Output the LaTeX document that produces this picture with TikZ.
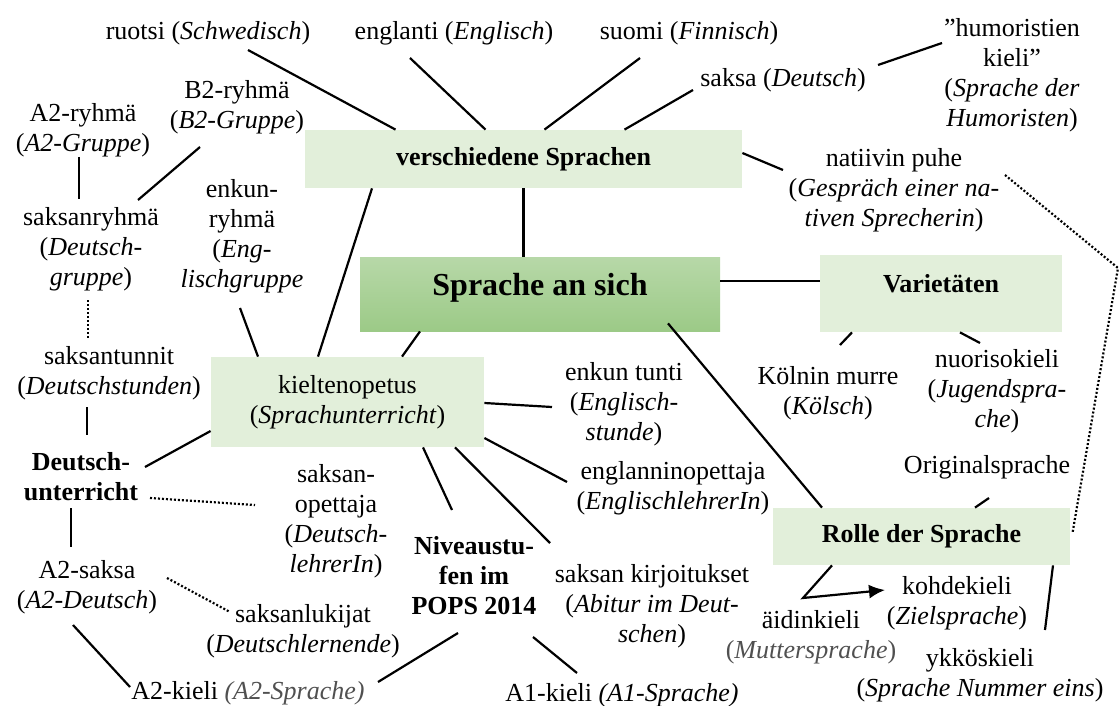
\documentclass[tikz,border=0pt]{standalone}
\usepackage{fontspec}
\setmainfont{Liberation Serif}
\usetikzlibrary{calc,arrows.meta}
\definecolor{boxgreen}{HTML}{E2EFDA}
\definecolor{topgreen}{HTML}{B7D8A8}
\definecolor{botgreen}{HTML}{9CCA87}
\definecolor{softgrey}{HTML}{505050}
\tikzset{
  word/.style={align=center,inner sep=0pt,font=\fontsize{13}{15}\selectfont},
  topic/.style={fill=boxgreen,inner sep=0pt,align=center,font=\fontsize{13}{15}\selectfont\bfseries},
  link/.style={line width=1.1pt},
  hint/.style={line width=1.1pt,dash pattern=on 1pt off 1pt},
}
\begin{document}
\begin{tikzpicture}[x=0.5pt,y=-0.5pt]
  \useasboundingbox (0,0) rectangle (1119,706);

  % boxes
  \node[topic,minimum width=218.5pt,minimum height=29pt] (vs) at (523.5,159) {verschiedene Sprachen};
  \node[shade,top color=topgreen,bottom color=botgreen,inner sep=0pt,minimum width=180pt,minimum height=37pt,
        text height=11pt,text depth=9.5pt,font=\fontsize{16}{19}\selectfont\bfseries] (sas) at (540,294) {Sprache an sich};
  \node[topic,minimum width=121pt,minimum height=38.5pt,text height=9pt,text depth=10.5pt] (var) at (941,293.5) {Varietäten};
  \node[topic,minimum width=148.5pt,minimum height=28.5pt] (rolle) at (921.5,536.5) {Rolle der Sprache};
  \node[topic,font=\fontsize{13}{15}\selectfont,minimum width=136.5pt,minimum height=45pt] (kiel) at (347.5,402) {kieltenopetus\\(\textit{Sprachunterricht})};

  % top row
  \node[word] (ruotsi) at (208,33) {ruotsi (\textit{Schwedisch})};
  \node[word] (englanti) at (454,33) {englanti (\textit{Englisch})};
  \node[word] (suomi) at (689,33) {suomi (\textit{Finnisch})};
  \node[word] (saksa) at (783,80) {saksa (\textit{Deutsch})};
  \node[word] (humor) at (1012,75) {”humoristien\\kieli”\\(\textit{Sprache der}\\\textit{Humoristen})};
  \node[word] (natiivin) at (894,190) {natiivin puhe\\(\textit{Gespräch einer na-}\\\textit{tiven Sprecherin})};

  % left
  \node[word] (a2ryhma) at (83,130) {A2-ryhmä\\(\textit{A2-Gruppe})};
  \node[word] (b2ryhma) at (237,107) {B2-ryhmä\\(\textit{B2-Gruppe})};
  \node[word] (sryhma) at (91,249) {saksanryhmä\\(\textit{Deutsch-}\\\textit{gruppe})};
  \node[word] (enkryhma) at (242,236) {enkun-\\ryhmä\\(\textit{Eng-}\\\textit{lischgruppe}};
  \node[word] (tunnit) at (109,373) {saksantunnit\\(\textit{Deutschstunden})};
  \node[word,font=\fontsize{13}{15}\selectfont\bfseries] (dtu) at (81,477) {Deutsch-\\unterricht};
  \node[word] (a2saksa) at (87,587) {A2-saksa\\(\textit{A2-Deutsch})};
  \node[word] (saksope) at (336,521) {saksan-\\opettaja\\(\textit{Deutsch-}\\\textit{lehrerIn})};
  \node[word] (lukijat) at (303,631) {saksanlukijat\\(\textit{Deutschlernende})};
  \node[word] (a2kieli) at (248,693) {A2-kieli {\color{softgrey}\textit{(A2-Sprache)}}};

  % middle
  \node[word,font=\fontsize{13}{15}\selectfont\bfseries] (pops) at (474,576) {Niveaustu-\\fen im\\POPS 2014};
  \node[word] (enkuntunti) at (624,404) {enkun tunti\\(\textit{Englisch-}\\\textit{stunde})};
  \node[word] (englope) at (673,488) {englanninopettaja\\(\textit{EnglischlehrerIn})};
  \node[word] (kirj) at (652,606) {saksan kirjoitukset\\(\textit{Abitur im Deut-}\\\textit{schen})};
  \node[word] (a1) at (622,695) {A1-kieli \textit{(A1-Sprache)}};

  % right
  \node[word] (kolnin) at (828,393) {Kölnin murre\\(\textit{Kölsch})};
  \node[word] (nuori) at (997,391) {nuorisokieli\\(\textit{Jugendspra-}\\\textit{che})};
  \node[word] (orig) at (987,467) {Originalsprache};
  \node[word] (kohde) at (957,603) {kohdekieli\\(\textit{Zielsprache})};
  \node[word] (aidin) at (811,637) {äidinkieli\\{\color{softgrey}(\textit{Muttersprache})}};
  \node[word] (ykkos) at (980,675) {ykköskieli\\(\textit{Sprache Nummer eins})};
  \coordinate (bend) at (1118,268);

  \draw[link] ($(ruotsi)+(40,17)$) -- ($(vs.north)+(-128,0)$);
  \draw[link] ($(englanti)+(-44,25)$) -- ($(vs.north)+(-38,0)$);
  \draw[link] ($(suomi)+(-49,25)$) -- ($(vs.north)+(21,0)$);
  \draw[link] ($(saksa)+(-90,10)$) -- ($(vs.north)+(101,0)$);
  \draw[link] ($(saksa)+(95,-15)$) -- ($(humor)+(-70,-32)$);
  \draw[link] ($(vs.east)+(0,-6)$) -- ($(natiivin)+(-111,-20)$);
  \draw[link] (vs.south) -- (vs.south |- sas.north);
  \draw[link] ($(sas.east)+(0,-13)$) -- ($(var.west)+(0,-12.5)$);
  \draw[link] ($(sas.south)+(128,-8)$) -- ($(rolle.north)+(-99.5,0)$);
  \draw[link] ($(sas.south)+(-120,0)$) -- ($(kiel.north)+(54.5,0)$);
  \draw[link] ($(vs.south)+(-151.5,0)$) -- ($(kiel.north)+(-29.5,0)$);
  \draw[link] ($(enkryhma)+(-2,72)$) -- ($(kiel.north)+(-89.5,0)$);
  \draw[link] ($(a2ryhma)+(-4,27)$) -- ($(sryhma)+(-12,-50)$);
  \draw[link] ($(b2ryhma)+(-37,40)$) -- ($(sryhma)+(47,-49)$);
  \draw[hint] ($(sryhma)+(-3,51)$) -- ($(tunnit)+(-21,-34)$);
  \draw[link] ($(tunnit)+(-22,34)$) -- ($(dtu)+(6,-42)$);
  \draw[link] ($(kiel.west)+(0,29)$) -- ($(dtu)+(64,-10)$);
  \draw[hint] ($(dtu)+(69,21)$) -- ($(saksope)+(-81,-16)$);
  \draw[link] ($(dtu)+(-10,31)$) -- ($(a2saksa)+(-16,-40)$);
  \draw[hint] ($(a2saksa)+(80,-9)$) -- ($(lukijat)+(-73,-19)$);
  \draw[link] ($(a2saksa)+(-14,38)$) -- ($(a2kieli)+(-118,-6)$);
  \draw[link] ($(a2kieli)+(130,-11)$) -- ($(pops)+(-16,57)$);
  \draw[link] ($(pops)+(59,61)$) -- ($(a1)+(-45,-22)$);
  \draw[link] ($(kiel.south)+(75.5,0)$) -- ($(pops)+(-22,-66)$);
  \draw[link] ($(kiel.south)+(107.5,0)$) -- ($(kirj)+(-102,-63)$);
  \draw[link] ($(kiel.east)+(0,36)$) -- ($(englope)+(-106,-6)$);
  \draw[link] ($(kiel.east)+(0,1)$) -- ($(enkuntunti)+(-72,3)$);
  \draw[link] ($(var.south)+(-89,0)$) -- ($(kolnin)+(12,-48)$);
  \draw[link] ($(var.south)+(19,0)$) -- ($(nuori)+(-17,-48)$);
  \draw[link] ($(orig)+(2,31)$) -- ($(rolle.north)+(53.5,0)$);
  \draw[link] ($(rolle.south)+(131.5,0)$) -- ($(ykkos)+(65,-45)$);
  \draw[link,-{Latex[length=8pt,width=7pt]}] ($(rolle.south)+(-89.5,0)$) -- ($(aidin)+(-8,-39)$) -- ($(kohde)+(-72,-13)$);
  \draw[hint] ($(natiivin)+(111,-15)$) -- (bend) -- ($(rolle.east)+(2,-3)$);
\end{tikzpicture}
\end{document}
